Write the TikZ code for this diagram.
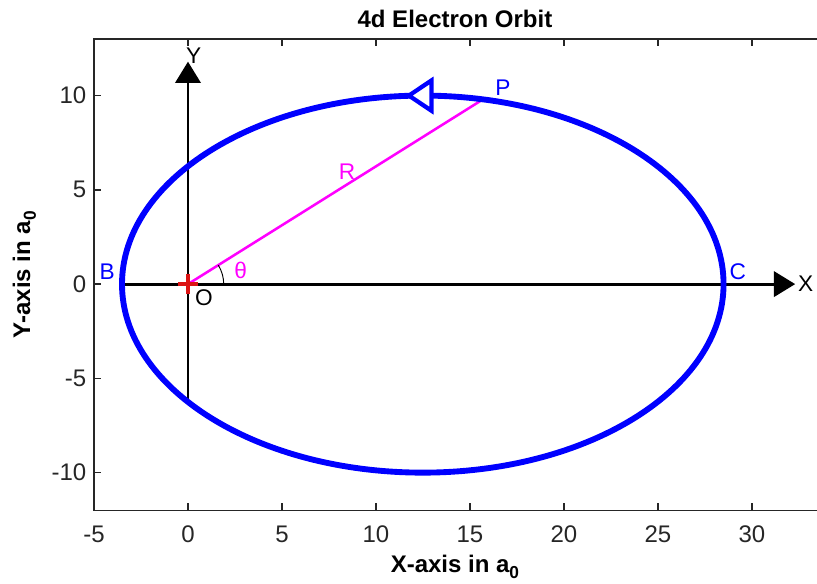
\documentclass[tikz,border=0pt]{standalone}
\usepackage{fontspec}
\setmainfont{Liberation Sans}
\usetikzlibrary{arrows.meta, positioning, calc}
\definecolor{axisgray}{HTML}{262626}
\definecolor{orbitblue}{RGB}{0,0,255}
\definecolor{radmag}{RGB}{255,0,255}
\definecolor{focusred}{RGB}{220,20,20}

\begin{document}
\begin{tikzpicture}[
      x=14.1pt, y=14.14pt,
      frame/.style={draw=axisgray, line width=1.1pt},
      tickmark/.style={draw=axisgray, line width=1pt},
      ticklabel/.style={text=axisgray, font=\fontsize{18}{21}\selectfont, inner sep=0pt},
      boldlabel/.style={font=\bfseries\fontsize{18}{21}\selectfont, inner sep=0pt},
      orbit/.style={draw=orbitblue, line width=4.4pt},
      axisarrow/.style={draw=black, line width=2.1pt, -{Triangle[length=16pt, width=19pt]}},
      radiusline/.style={draw=radmag, line width=1.9pt},
      ptlabel/.style={font=\fontsize{17}{20}\selectfont, inner sep=0pt}
    ]
    \useasboundingbox (-10,-15.86) rectangle (33.46,15.07);

    % axes frame and ticks
    \draw[frame] (33.46,13) -- (-5,13) -- (-5,-12) -- (33.46,-12);
    \foreach \x in {-5,0,...,30} {
      \draw[tickmark] (\x,-12) -- ++(0,0.37);
      \draw[tickmark] (\x,13) -- ++(0,-0.37);
      \node[ticklabel] (xt\x) at (\x,-13.25) {\x};
    }
    \foreach \y in {-10,-5,...,10} {
      \draw[tickmark] (-5,\y) -- ++(0.37,0);
      \node[ticklabel, anchor=east] (yt\y) at (-5.4,\y) {\y};
    }

    \node[boldlabel] (title) at (14.2,14.05) {4d Electron Orbit};
    \node[boldlabel] (xlabel) at (14.2,-15.0) {X-axis in a\raisebox{-0.45ex}{\fontsize{13}{14}\selectfont 0}};
    \node[boldlabel, rotate=90] (ylabel) at (-8.7,0.5) {Y-axis in a\raisebox{-0.45ex}{\fontsize{13}{14}\selectfont 0}};

    % points
    \coordinate (O) at (0,0);
    \coordinate (B) at (-3.51,0);
    \coordinate (C) at (28.49,0);
    \coordinate (P) at (15.69,9.8);
    \coordinate (Ybot) at (0,-6.25);
    \coordinate (Ytip) at (0,11.8);
    \coordinate (Xtip) at (32.3,0);

    % coordinate axes
    \draw[axisarrow] (B) -- (Xtip);
    \draw[axisarrow] (Ybot) -- (Ytip);
    \node[ptlabel, right=2pt of Xtip] (xname) {X};
    \node[ptlabel] (yname) at (0.3,12.1) {Y};

    % radius vector and angle
    \draw[radiusline] (O) -- (P);
    \draw[black, line width=0.7pt] (1.9,0) arc[start angle=0, end angle=32, radius=1.9];
    \node[ptlabel, text=radmag] (theta) at (2.8,0.72) {θ};
    \node[ptlabel, text=radmag] (rname) at (8.46,5.94) {R};

    % orbit
    \draw[orbit] (12.49,0) ellipse [x radius=16, y radius=10];
    \draw[draw=orbitblue, fill=white, line width=3.2pt, line join=miter]
      (11.75,10) -- (12.95,10.8) -- (12.95,9.2) -- cycle;

    % focus
    \draw[focusred, line width=2.8pt] (-0.53,0) -- (0.53,0) (0,-0.53) -- (0,0.53);

    \node[ptlabel, text=orbitblue] (pname) at (16.75,10.4) {P};
    \node[ptlabel, text=orbitblue] (bname) at (-4.3,0.64) {B};
    \node[ptlabel, text=orbitblue] (cname) at (29.25,0.64) {C};
    \node[ptlabel] (oname) at (0.85,-0.7) {O};
  \end{tikzpicture}
\end{document}
